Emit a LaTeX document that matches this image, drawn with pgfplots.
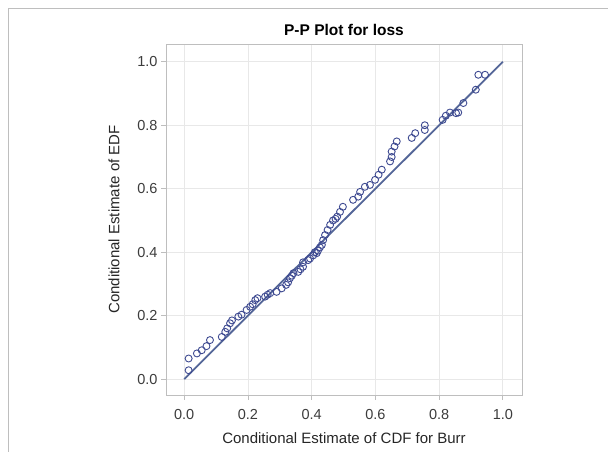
\documentclass[border=0pt]{standalone}
\usepackage{pgfplots}
\pgfplotsset{compat=1.18}
\usepackage{fontspec}
\setmainfont{Liberation Sans}
\definecolor{ptblue}{RGB}{62,74,145}
\definecolor{lineblue}{RGB}{84,102,152}
\definecolor{gridgray}{RGB}{232,232,232}
\definecolor{framegray}{RGB}{190,190,190}
\definecolor{textgray}{RGB}{60,60,60}
\pgfplotstableread{
x y
0.014 0.028
0.014 0.065
0.040 0.081
0.055 0.091
0.070 0.104
0.081 0.123
0.118 0.133
0.129 0.149
0.135 0.160
0.144 0.176
0.150 0.185
0.170 0.197
0.180 0.203
0.196 0.218
0.207 0.228
0.215 0.236
0.223 0.249
0.230 0.255
0.254 0.260
0.262 0.266
0.270 0.271
0.290 0.275
0.306 0.286
0.320 0.297
0.326 0.305
0.332 0.318
0.338 0.326
0.343 0.334
0.358 0.338
0.365 0.346
0.373 0.354
0.373 0.368
0.389 0.375
0.395 0.380
0.405 0.390
0.410 0.400
0.416 0.397
0.420 0.405
0.426 0.415
0.432 0.423
0.436 0.438
0.442 0.454
0.450 0.470
0.458 0.486
0.467 0.500
0.475 0.505
0.480 0.512
0.489 0.527
0.498 0.543
0.530 0.565
0.546 0.575
0.552 0.590
0.567 0.606
0.583 0.612
0.599 0.628
0.610 0.644
0.620 0.660
0.646 0.686
0.651 0.700
0.651 0.717
0.660 0.733
0.667 0.749
0.714 0.760
0.725 0.775
0.755 0.785
0.755 0.800
0.811 0.817
0.821 0.830
0.834 0.840
0.853 0.838
0.860 0.840
0.876 0.870
0.915 0.912
0.923 0.959
0.944 0.959
}\pptable
\begin{document}
\begin{tikzpicture}
\useasboundingbox (0,0) rectangle (608pt,452pt);
\draw[framegray, line width=0.8pt] (8pt,0) -- (8pt,444pt) -- (608pt,444pt);
\begin{axis}[
    at={(166pt,57pt)}, anchor=south west,
    scale only axis,
    width=356pt, height=351pt,
    xmin=-0.057, xmax=1.06,
    ymin=-0.05, ymax=1.056,
    xtick={0,0.2,...,1.0},
    ytick={0,0.2,...,1.0},
    grid=major,
    grid style={gridgray, line width=0.8pt},
    axis line style={framegray, line width=0.9pt},
    tick style={framegray, line width=0.8pt},
    tick align=outside,
    major tick length=5pt,
    xtick pos=bottom, ytick pos=left,
    xticklabel style={yshift=-6pt, /pgf/number format/.cd, fixed, fixed zerofill, precision=1},
    yticklabel style={/pgf/number format/.cd, fixed, fixed zerofill, precision=1},
    /pgf/number format/assume math mode=true,
    ticklabel style={font=\fontsize{14.5}{16}\selectfont, text=textgray},
    xlabel={Conditional Estimate of CDF for Burr},
    ylabel={Conditional Estimate of EDF},
    label style={font=\fontsize{15}{18}\selectfont, text=black!85},
    xlabel style={yshift=-6pt},
    ylabel style={yshift=11pt},
    title={P-P Plot for loss},
    title style={font=\bfseries\fontsize{15.5}{18}\selectfont, yshift=-1pt},
    clip=false,
]
\addplot[lineblue, line width=1.8pt] coordinates {(0,0) (1,1)};
\addplot[only marks, mark=o, mark size=3.5pt, ptblue, mark options={line width=0.9pt}] table {\pptable};
\end{axis}
\end{tikzpicture}
\end{document}
